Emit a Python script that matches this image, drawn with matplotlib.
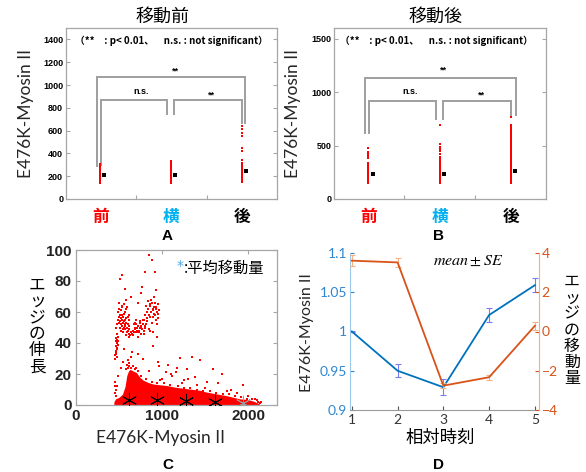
import matplotlib
matplotlib.use("Agg")
import matplotlib.pyplot as plt
import numpy as np

plt.rcParams['mathtext.fontset'] = 'stix'
JP = ['Noto Sans CJK JP', 'DejaVu Sans']
W, H = 586, 472

# ---------------- data ----------------
categories = ['前', '横', '後']
cat_colors = ['#FF0000', '#00B0F0', '#000000']

A_before = [143, 148, 152, 157, 161, 166, 170, 175, 180, 184, 189, 193, 198, 203, 207, 212,
            216, 221, 226, 230, 235, 240, 244, 249, 253, 258, 263, 267, 272, 276, 281, 286,
            290, 295, 300, 305]
A_side = [140, 145, 150, 155, 160, 165, 170, 175, 180, 185, 190, 195, 200, 205, 210, 215,
          220, 225, 230, 235, 240, 245, 250, 255, 260, 265, 270, 275, 280, 285, 300, 312,
          323, 336]
A_after = [145, 150, 155, 160, 165, 170, 175, 180, 185, 190, 195, 200, 205, 210, 215, 220,
           225, 230, 235, 240, 245, 250, 255, 260, 265, 270, 275, 280, 285, 290, 298, 320,
           345, 420, 445, 552, 581, 611, 640]
A_means = [210, 210, 248]

B_before = [147, 152, 158, 163, 168, 174, 179, 185, 190, 196, 201, 207, 212, 218, 223, 229,
            234, 240, 245, 251, 256, 262, 267, 273, 278, 284, 289, 295, 300, 310, 320, 333,
            380, 400, 420, 440, 473]
B_side = [147, 152, 158, 163, 168, 174, 179, 185, 190, 196, 201, 207, 212, 218, 223, 229,
          234, 240, 245, 251, 256, 262, 267, 273, 278, 284, 289, 295, 300, 306, 312, 318,
          324, 330, 336, 342, 348, 355, 362, 370, 395, 420, 445, 470, 490, 510, 690]
B_after = [147, 153, 160, 167, 173, 180, 187, 193, 200, 207, 213, 220, 227, 233, 240, 247,
           253, 260, 267, 273, 280, 287, 293, 300, 307, 313, 320, 327, 333, 340, 347, 353,
           360, 367, 373, 380, 387, 393, 400, 407, 413, 420, 427, 433, 440, 447, 453, 460,
           470, 480, 490, 500, 510, 520, 540, 555, 570, 585, 600, 615, 630, 645, 660, 675,
           690, 768]
B_means = [230, 230, 265]

# panel C: dense core envelope + sparse points
dense_x = [440, 460, 500, 540, 570, 590, 610, 630, 660, 700, 740, 780, 840, 900, 980, 1060,
           1150, 1290, 1440, 1500, 1600, 1750, 1900, 2000, 2060, 2130]
dense_top = [2, 4, 5, 7, 12, 19, 22, 23, 22, 21, 18, 16, 14.5, 13.5, 13, 12.5,
             11.5, 10.5, 9.5, 8.5, 7.5, 6, 4, 3.5, 2.5, 0.8]

C_x = [
    # cluster near x 450-650, y 45-66
    470, 480, 490, 500, 505, 510, 515, 520, 525, 530, 535, 540, 545, 550, 555, 560, 565, 570,
    575, 580, 585, 590, 595, 600, 605, 610, 615, 620, 630, 640, 485, 495, 510, 525, 540, 555,
    570, 585, 600, 615, 500, 530, 560, 590, 620, 480, 520, 550, 580, 610, 545, 575,
    # streak x 450-500, y 30-45
    455, 460, 462, 465, 468, 470, 472, 475, 478, 480, 483, 486, 490, 458, 466, 474,
    # cluster near x 650-800, y 44-55
    650, 660, 670, 680, 690, 700, 710, 720, 730, 740, 750, 760, 770, 780, 790, 800, 665, 685,
    705, 725, 745, 765, 785, 675, 695, 715, 735, 755, 775, 700, 740,
    # cluster near x 780-960, y 47-68
    790, 800, 810, 820, 830, 840, 850, 860, 870, 880, 890, 900, 910, 920, 930, 940, 950, 960,
    805, 825, 845, 865, 885, 905, 925, 945, 815, 835, 855, 875, 895, 915, 935, 955, 860, 900,
    # high outliers
    849, 887, 802, 919, 512, 539, 771, 570, 636, 720, 760, 905, 930, 585, 950,
    # medium scattered
    1209, 1345, 1442, 957, 1073, 1171, 1287, 1597, 1694, 1938, 783, 647, 601, 899, 938, 473,
    492, 519, 550, 1000, 1120, 1250, 1380, 1520, 1650, 1800, 1050, 1300, 1400, 1160, 960, 980,
    620, 640, 660, 700, 720, 560, 590, 850, 1100, 1230, 1500, 1750, 1870, 2000, 2080, 2150,
    # fuzzy edges of the dense core
    450, 455, 452, 460, 470, 1020, 1090, 1180, 1260, 1330, 1410, 1480, 1560, 1630, 1710, 1780,
    1850, 1920, 1990, 2040, 2100, 2120, 2140, 600, 580, 610, 640, 680, 720, 760, 810, 880, 940,
]
C_y = [
    50, 52, 55, 53, 57, 50, 54, 56, 52, 58, 55, 51, 53, 57, 54, 50, 55, 52,
    49, 56, 53, 50, 47, 52, 48, 51, 46, 49, 45, 47, 60, 62, 58, 61, 63, 59,
    60, 62, 57, 55, 66, 64, 65, 63, 58, 46, 48, 47, 45, 44, 49, 51,
    32, 35, 38, 41, 34, 43, 37, 40, 36, 42, 39, 44, 41, 30, 33, 31,
    46, 48, 47, 50, 49, 52, 48, 51, 47, 53, 50, 46, 49, 52, 48, 51, 45, 53,
    50, 47, 54, 49, 46, 52, 55, 44, 48, 51, 55, 47, 50,
    55, 58, 52, 60, 56, 62, 58, 64, 60, 66, 57, 61, 63, 58, 62, 60, 56, 61,
    50, 54, 49, 57, 53, 59, 55, 52, 64, 67, 65, 68, 62, 66, 63, 59, 48, 47,
    96.6, 93.6, 86, 86, 81, 84, 76, 75, 70, 66, 72, 70, 74, 68, 65,
    30.4, 31, 29, 28, 26, 24, 23, 23, 20, 13, 30, 34, 29, 38, 44, 12,
    19, 24, 28, 17, 19, 16, 18, 15, 14, 10, 21, 17, 13, 21, 25, 16,
    27, 31, 25, 24, 33, 36, 26, 22, 20, 14, 11, 9, 8, 6, 4, 2,
    8, 12, 15, 6, 10, 14, 13, 12, 11, 11, 10, 9, 9, 8, 7, 7,
    6, 5, 4, 4, 3, 2, 1.5, 24, 23, 25, 24, 23, 22, 19, 17, 15, 14,
]
C_mean_x = [616, 945, 1283, 1616, 1942]
C_mean_y = [3.0, 3.5, 2.5, 2.0, 1.5]

D_t = [1, 2, 3, 4, 5]
D_myosin = [1.000, 0.950, 0.929, 1.021, 1.059]
D_myosin_se = [0.001, 0.0085, 0.0105, 0.0085, 0.009]
D_edge = [3.61, 3.52, -2.76, -2.33, 0.29]
D_edge_se = [0.28, 0.24, 0.13, 0.13, 0.20]

# ---------------- figure ----------------
fig = plt.figure(figsize=(W / 100, H / 100), dpi=100)


def ax_px(l, t, r, b):
    return fig.add_axes([l / W, 1 - b / H, (r - l) / W, (b - t) / H])


def ftxt(px, py, s, **kw):
    fig.text(px / W, 1 - py / H, s, **kw)


GRAY = '#A6A6A6'
LABEL_FONT = ['Lato', 'DejaVu Sans']
TXT = '#262626'


def strip_panel(ax, series, means, ylim, yticks, brackets, labels, note_y, note_x):
    for i, vals in enumerate(series):
        ax.scatter([i + 1] * len(vals), vals, marker='s', s=2.6, color='#FF0000',
                   linewidths=0, zorder=3)
    ax.scatter([1.06, 2.06, 3.06], means, marker='s', s=5, color='black', linewidths=0, zorder=4)
    ax.set_xlim(0.52, 3.49)
    ax.set_ylim(*ylim)
    ax.set_yticks(yticks)
    ax.set_yticklabels([str(v) for v in yticks], fontsize=6.5, fontweight='bold',
                       family='Liberation Sans')
    ax.set_xticks([1.5, 2.5])
    ax.set_xticklabels([])
    ax.tick_params(axis='both', direction='in', length=3, color=GRAY, right=True, pad=2)
    for sp in ax.spines.values():
        sp.set_color(GRAY)
        sp.set_linewidth(0.9)
    for xs, ys in brackets:
        ax.plot(xs, ys, color='#9E9E9E', lw=1.4, solid_joinstyle='miter', zorder=2)
    for (x, y, s) in labels:
        ax.text(x, y, s, ha='center', va='center', fontsize=6.5, fontweight='bold',
                family='Liberation Sans')
    ax.text(note_x, note_y, '（**　: p< 0.01、　n.s. : not significant）', ha='left', va='center',
            fontsize=7, fontweight='bold', family=JP)


# ---------- Panel A ----------
axA = ax_px(66, 28, 277, 199)
strip_panel(
    axA, [A_before, A_side, A_after], A_means, (0, 1500), [0, 200, 400, 600, 800, 1000, 1200, 1400],
    [([0.955, 0.955, 3.042, 3.042], [292, 1066, 1066, 669]),
     ([1.01, 1.01, 1.948, 1.948], [300, 868, 868, 745]),
     ([2.046, 2.046, 2.996, 2.996], [745, 868, 868, 669])],
    [(2.06, 1125, '**'), (1.58, 945, 'n.s.'), (2.57, 915, '**')],
    1387, 0.64)

# ---------- Panel B ----------
axB = ax_px(334, 28, 546, 199)
strip_panel(
    axB, [B_before, B_side, B_after], B_means, (0, 1600), [0, 500, 1000, 1500],
    [([0.948, 0.948, 3.066, 3.066], [613, 1136, 1136, 784]),
     ([1.005, 1.005, 1.95, 1.95], [613, 918, 918, 744]),
     ([2.05, 2.05, 3.0, 3.0], [744, 918, 918, 784])],
    [(2.06, 1205, '**'), (1.58, 1005, 'n.s.'), (2.58, 975, '**')],
    1478, 0.60)

for ax in (axA, axB):
    for i, (c, col) in enumerate(zip(categories, cat_colors)):
        ax.text(i + 1, -0.05, c, transform=ax.get_xaxis_transform(), ha='center', va='top',
                fontsize=12, fontweight='bold', color=col, family=JP)

ftxt(163, 17, '移動前', ha='center', va='center', fontsize=13, family=JP)
ftxt(435, 17, '移動後', ha='center', va='center', fontsize=13, family=JP)
ftxt(26, 113, 'E476K-Myosin II', ha='center', va='center', rotation=90, fontsize=12.5,
     family=LABEL_FONT, color=TXT)
ftxt(293, 113, 'E476K-Myosin II', ha='center', va='center', rotation=90, fontsize=12.5,
     family=LABEL_FONT, color=TXT)
ftxt(167, 236, 'A', ha='center', va='center', fontsize=11, fontweight='bold', family='Liberation Sans')
ftxt(439, 236, 'B', ha='center', va='center', fontsize=11, fontweight='bold', family='Liberation Sans')

# ---------- Panel C ----------
axC = ax_px(76, 250, 277, 405)
axC.fill_between(dense_x, 0, dense_top, color='#FF0000', lw=0, zorder=2)
axC.scatter(C_x, C_y, marker='s', s=4, color='#FF0000', linewidths=0, zorder=3)
axC.scatter(C_mean_x[:4], C_mean_y[:4], marker=(6, 2, 0), s=110, color='black', linewidths=0.7,
            zorder=5)
axC.scatter(C_mean_x[4:], C_mean_y[4:], marker=(6, 2, 0), s=110, color='#9A9A9A', linewidths=0.7,
            zorder=5)
axC.set_xlim(0, 2335)
axC.set_ylim(0, 100)
axC.set_xticks([0, 1000, 2000])
axC.set_yticks([0, 20, 40, 60, 80, 100])
axC.tick_params(axis='both', direction='in', length=3, color=GRAY, right=True, top=True,
                labelsize=11, pad=3)
for lab in axC.get_xticklabels() + axC.get_yticklabels():
    lab.set_fontweight('bold')
    lab.set_family('Liberation Sans')
    lab.set_color('#222222')
for sp in axC.spines.values():
    sp.set_color(GRAY)
    sp.set_linewidth(0.9)
axC.text(0.517, 0.895, '*', transform=axC.transAxes, color='#4DA6E8', fontsize=10,
         ha='center', va='center', family='DejaVu Sans')
axC.text(0.535, 0.884, ':平均移動量', transform=axC.transAxes, fontsize=11, ha='left',
         va='center', family=JP)
ftxt(160, 438, 'E476K-Myosin II', ha='center', va='center', fontsize=12.5,
     family=LABEL_FONT, color=TXT)
ftxt(37, 326, '\n'.join('エッジの伸長'), ha='center', va='center', fontsize=12,
     family=JP, linespacing=0.95)
ftxt(168, 465, 'C', ha='center', va='center', fontsize=11, fontweight='bold', family='Liberation Sans')

# ---------- Panel D ----------
BLUE = '#0072BD'
ORANGE = '#D95319'
axD = ax_px(350, 253, 539, 410)
axD.plot(D_t, D_myosin, color=BLUE, lw=1.3, zorder=3)
axD.errorbar(D_t, D_myosin, yerr=D_myosin_se, fmt='none', ecolor='#7C7CF2', elinewidth=0.8,
             capsize=2, capthick=0.8, zorder=2)
axD.set_xlim(0.96, 5.09)
axD.set_ylim(0.9, 1.1)
axD.set_yticks([0.9, 0.95, 1.0, 1.05, 1.1])
axD.set_yticklabels(['0.9', '0.95', '1', '1.05', '1.1'])
axD.set_xticks(D_t)
axD.tick_params(axis='y', colors='#2E86D1', labelsize=10, direction='in', length=3, pad=2)
axD.tick_params(axis='x', colors='#555555', labelsize=10, direction='in', length=3, pad=3)
for lab in axD.get_xticklabels() + axD.get_yticklabels():
    lab.set_family(LABEL_FONT)
for lab in axD.get_xticklabels():
    lab.set_color('#333333')
axD.spines['top'].set_visible(False)
axD.spines['right'].set_visible(False)
axD.spines['left'].set_color('#9CC8EC')
axD.spines['bottom'].set_color('#9A9A9A')

axD2 = axD.twinx()
axD2.plot(D_t, D_edge, color=ORANGE, lw=1.3, zorder=3)
axD2.errorbar(D_t, D_edge, yerr=D_edge_se, fmt='none', ecolor='#F4B183', elinewidth=0.8,
              capsize=2, capthick=0.8, zorder=2)
axD2.set_ylim(-4, 4)
axD2.set_yticks([-4, -2, 0, 2, 4])
axD2.tick_params(axis='y', colors=ORANGE, labelsize=10, direction='in', length=3, pad=2)
for lab in axD2.get_yticklabels():
    lab.set_family(LABEL_FONT)
for k in ('top', 'left', 'bottom'):
    axD2.spines[k].set_visible(False)
axD2.spines['right'].set_color('#F2B08A')
axD.text(0.628, 0.955, r'$mean \pm SE$', transform=axD.transAxes, fontsize=11.5,
         ha='center', va='center')
ftxt(307, 333, 'E476K-Myosin II', ha='center', va='center', rotation=90, fontsize=11.5,
     family=LABEL_FONT, color=TXT)
ftxt(572, 330, '\n'.join('エッジの移動量'), ha='center', va='center', fontsize=11.5,
     family=JP, linespacing=0.93)
ftxt(440, 438, '相対時刻', ha='center', va='center', fontsize=12.5, family=JP)
ftxt(439, 465, 'D', ha='center', va='center', fontsize=11, fontweight='bold', family='Liberation Sans')

fig.savefig('out.png', dpi=100)
